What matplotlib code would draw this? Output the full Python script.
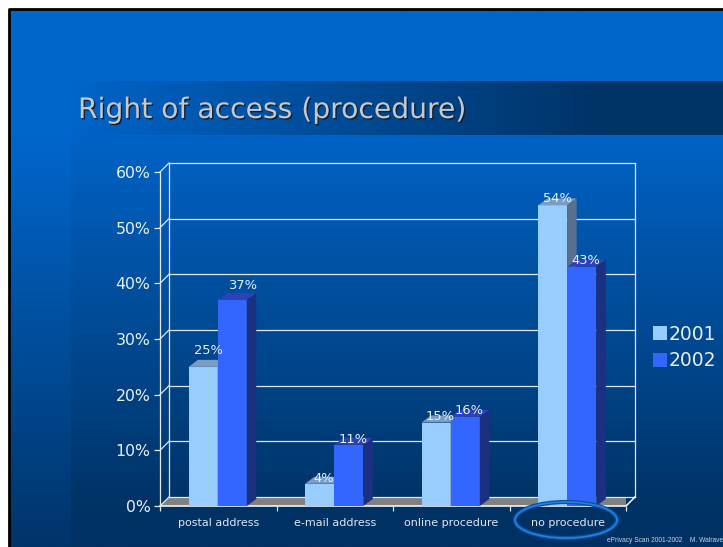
import numpy as np
import matplotlib
matplotlib.use('Agg')
import matplotlib.pyplot as plt
from matplotlib.colors import LinearSegmentedColormap
from matplotlib.patches import Ellipse, Polygon
import matplotlib.patheffects as pe

categories = ['postal address', 'e-mail address', 'online procedure', 'no procedure']
years = ['2001', '2002']
values_2001 = [25, 4, 15, 54]
values_2002 = [37, 11, 16, 43]
y_ticks = [0, 10, 20, 30, 40, 50, 60]

# hand placed label nudges in the original, in pixels
nudge_x_2001 = [1, 0, 0, 1]
nudge_x_2002 = [6, 0, 0, 0]
nudge_y_2001 = [-4, 7, 6, 5]
nudge_y_2002 = [-2, 7, 6, 6]

W, H = 723, 547
LIGHT = '#99ccff'
DARK = '#3366ff'
LIGHT_TOP = '#7a9dc4'
DARK_TOP = '#2a43b8'
LIGHT_SIDE = '#5a6f8c'
DARK_SIDE = '#1c2f80'


def px_rect(x0, y0, x1, y1):
    # pixel box measured from the top left corner -> figure fractions
    return [x0 / W, 1 - y1 / H, (x1 - x0) / W, (y1 - y0) / H]


fig = plt.figure(figsize=(W / 100, H / 100), dpi=100, facecolor='white')

# slide background
bg = fig.add_axes(px_rect(9, 9, 723, 547))
bg.axis('off')
base = LinearSegmentedColormap.from_list('slide', [(0, '#0066cc'), (0.235, '#0066cc'), (1, '#00346a')])
bg.imshow(np.linspace(0, 1, 256)[:, None], aspect='auto', cmap=base, extent=[9, 723, 547, 9])
panel = LinearSegmentedColormap.from_list('panel', [(0, '#0063c6'), (0.9, '#003366'), (1, '#003064')])
bg.imshow(np.linspace(0, 1, 256)[:, None], aspect='auto', cmap=panel, extent=[71, 723, 547, 135])
band = LinearSegmentedColormap.from_list('band', [(0, '#0064c8'), (0.82, '#003366'), (1, '#003366')])
bg.imshow(np.linspace(0, 1, 256)[None, :], aspect='auto', cmap=band, extent=[71, 723, 135, 81])
bg.set_xlim(9, 723)
bg.set_ylim(547, 9)
bg.plot([9, 9, 723], [547, 9, 9], color='black', lw=2, clip_on=False)
bg.text(78, 110, 'Right of access (procedure)', color='#c8c8c8', fontsize=20.3, va='center',
        path_effects=[pe.withSimplePatchShadow(offset=(1, -1), shadow_rgbFace='#10203a', alpha=1)])
bg.text(723, 541, 'ePrivacy Scan 2001-2002    M. Walrave', color='#c8d4e4', fontsize=4.8,
        ha='right', va='center', family='Liberation Sans')

# chart, axes box is the front plane of the 3D look
ax = fig.add_axes(px_rect(160, 172, 626, 506))
ax.patch.set_alpha(0)
ax.set_xlim(0, 4)
ax.set_ylim(0, 60)
for s in ax.spines.values():
    s.set_visible(False)

px_x = 466 / 4
px_y = 334 / 60
dx = 9 / px_x
dy = 9 / px_y
bar_dx = 9.5 / px_x
bar_dy = 7 / px_y
line_c = '#dfe8f4'

# back wall and floor
ax.add_patch(Polygon([(0, 0), (dx, dy), (4 + dx, dy), (4, 0)], closed=True, fc='#808080', ec='none', zorder=1))
for t in y_ticks:
    ax.plot([dx, 4 + dx], [t + dy, t + dy], color=line_c, lw=0.9, zorder=1.5, clip_on=False)
    ax.plot([0, dx], [t, t + dy], color=line_c, lw=0.9, zorder=1.5, clip_on=False)
ax.plot([dx, dx], [dy, 60 + dy], color=line_c, lw=0.9, clip_on=False, zorder=1.5)
ax.plot([4 + dx, 4 + dx], [dy, 60 + dy], color=line_c, lw=0.9, clip_on=False, zorder=1.5)
ax.plot([0, 4, 4 + dx], [0, 0, dy], color='white', lw=1.1, clip_on=False, zorder=1.5)
ax.plot([0, 0], [0, 60], color=line_c, lw=0.9, clip_on=False, zorder=1.5)

bar_w = 0.25
x = np.arange(len(categories)) + 0.495


def draw_3d(xs, vals, face, top, side, z):
    ax.bar(xs, vals, bar_w, align='edge', color=face, zorder=z)
    for xi, v in zip(xs, vals):
        ax.add_patch(Polygon([(xi, v), (xi + bar_dx, v + bar_dy), (xi + bar_w + bar_dx, v + bar_dy), (xi + bar_w, v)],
                             closed=True, fc=top, ec='none', zorder=z))
        ax.add_patch(Polygon([(xi + bar_w, 0), (xi + bar_w + bar_dx, bar_dy), (xi + bar_w + bar_dx, v + bar_dy), (xi + bar_w, v)],
                             closed=True, fc=side, ec='none', zorder=z))


draw_3d(x - bar_w, values_2001, LIGHT, LIGHT_TOP, LIGHT_SIDE, 3)
draw_3d(x, values_2002, DARK, DARK_TOP, DARK_SIDE, 4)


def value_labels(xs, vals, nx, ny):
    for xi, v, a, b in zip(xs, vals, nx, ny):
        # offset in points, dpi is 100
        ax.annotate(f'{v}%', (xi + 0.16, v + 1.0), xytext=(a * 0.72, -b * 0.72), textcoords='offset points',
                    color='#e8f0fa', fontsize=9.4, ha='center', va='bottom', zorder=6, annotation_clip=False)


value_labels(x - bar_w, values_2001, nudge_x_2001, nudge_y_2001)
value_labels(x, values_2002, nudge_x_2002, nudge_y_2002)

ax.set_xticks(np.arange(5))
ax.set_xticklabels([])
ax.set_xticks(np.arange(4) + 0.5, minor=True)
ax.set_xticklabels(categories, minor=True, color='#e0e6f0', fontsize=8)
ax.tick_params(axis='x', which='major', length=3.5, color=line_c, width=0.9)
ax.tick_params(axis='x', which='minor', length=0, pad=8.3)
ax.set_yticks(y_ticks)
ax.set_yticklabels([f'{t}%' for t in y_ticks], color='#e8eef6', fontsize=11.3)
ax.tick_params(axis='y', length=4.3, color=line_c, width=0.9, pad=2.5)

# legend
handles = [plt.Rectangle((0, 0), 1, 1, fc=LIGHT), plt.Rectangle((0, 0), 1, 1, fc=DARK)]
fig.legend(handles, years, loc='center left', bbox_to_anchor=(653 / W, 1 - 347.5 / H), frameon=False,
           fontsize=13.5, labelcolor='#e8eef6', handlelength=0.72, handleheight=0.72,
           handletextpad=0.14, labelspacing=0.42, borderpad=0, borderaxespad=0)

# highlight around the last label
ring = fig.add_axes([0, 0, 1, 1])
ring.axis('off')
ring.set_xlim(0, W)
ring.set_ylim(H, 0)
ring.add_patch(Ellipse((566, 520), 102, 36, fc='none', ec='#0a4f9e', lw=3))
ring.add_patch(Ellipse((566, 520), 102, 36, fc='none', ec='#1f84e0', lw=1.2))

fig.savefig('out.png', dpi=100)
